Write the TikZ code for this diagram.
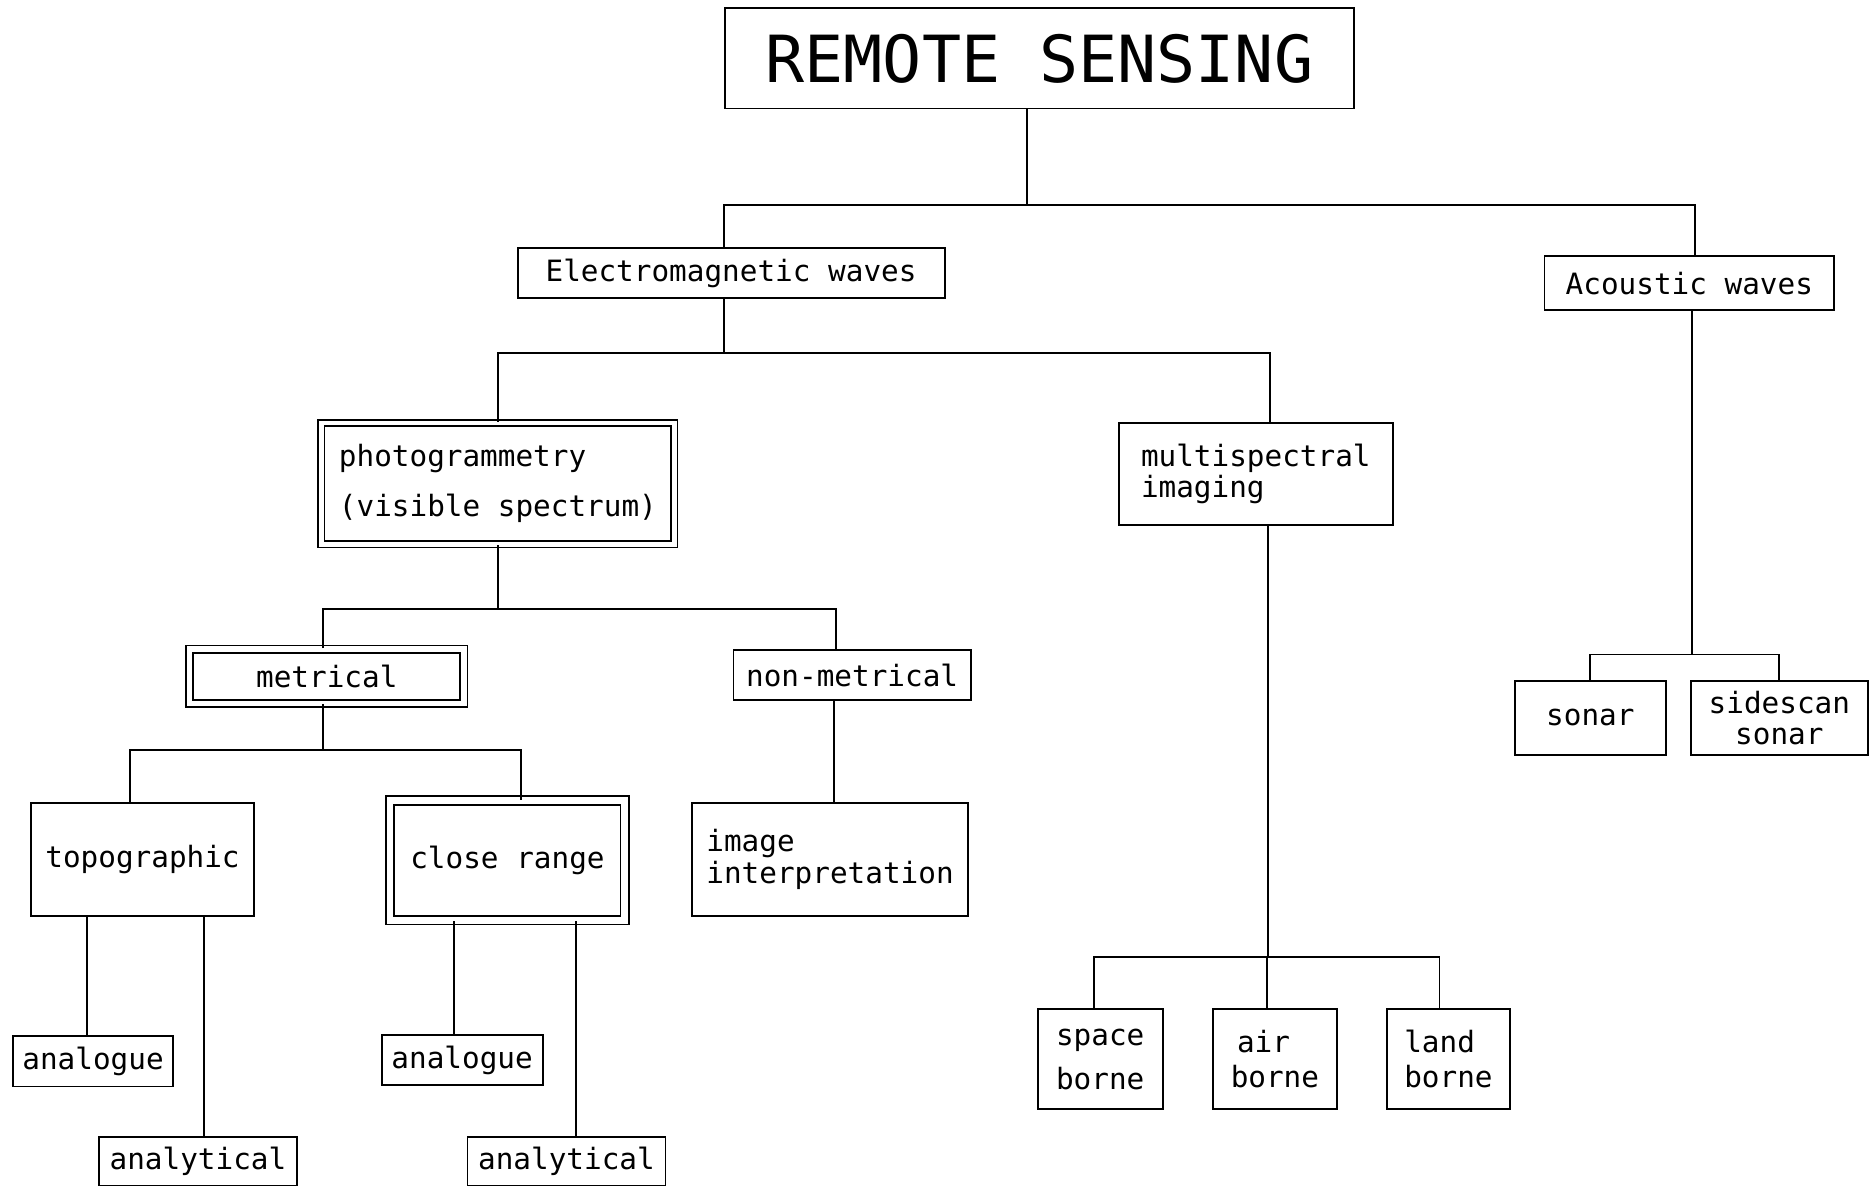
\documentclass[tikz,border=0pt]{standalone}
\usepackage{fontspec}
\newfontfamily\plotfont{DejaVu Sans Mono}
\usepackage{tikz}

\begin{document}
\begin{tikzpicture}[
    box/.style={draw, line width=0.9pt, inner sep=1pt, font=\plotfont\fontsize{14}{15}\selectfont},
    dbl/.style={box, double, double distance=#1},
    conn/.style={line width=0.9pt}
]
\useasboundingbox (0,0) rectangle (31.36,-19.9);

% Remote sensing
\node[box, minimum width=10.54cm, minimum height=1.68cm, font=\plotfont\fontsize{31}{36}\selectfont] (rs) at (17.43,-0.98) {REMOTE SENSING};

% Electromagnetic and acoustic waves
\node[box, minimum width=7.16cm, minimum height=0.84cm] (em) at (12.26,-4.58) {Electromagnetic waves};
\node[box, minimum width=4.86cm, minimum height=0.90cm] (ac) at (28.33,-4.75) {Acoustic waves};

% Arrow-less tree from remote sensing
\draw[conn] ([xshift=-2.1mm]rs.south) -- ++(0,-1.6) coordinate (j1);
\draw[conn] ([xshift=-1.2mm]em.north) |- (j1) -| ([xshift=0.9mm]ac.north);

% Photogrammetry and multispectral imaging
\node[dbl=2pt, minimum width=5.92cm, minimum height=2.04cm, align=left] (ph) at (8.35,-8.11) {photogrammetry\\[9pt](visible spectrum)};
\node[box, minimum width=4.6cm, minimum height=1.7cm, align=left] (ms) at (21.06,-7.95) {multispectral\\imaging};

\draw[conn] ([xshift=-1.2mm]em.south) -- ++(0,-0.9) coordinate (j2);
\draw[conn] (ph.north) |- (j2) -| ([xshift=2.4mm]ms.north);

% Metrical and non-metrical
\node[dbl=2.5pt, minimum width=4.6cm, minimum height=0.91cm] (mt) at (5.48,-11.34) {metrical};
\node[box, minimum width=3.98cm, minimum height=0.84cm] (nm) at (14.29,-11.32) {non-metrical};

\draw[conn] (ph.south) -- ++(0,-1.07) coordinate (j3);
\draw[conn] ([xshift=-0.6mm]mt.north) |- (j3) -| ([xshift=-2.7mm]nm.north);

% Topographic, close range, image interpretation
\node[box, minimum width=3.74cm, minimum height=1.9cm] (tp) at (2.39,-14.41) {topographic};
\node[dbl=3.3pt, minimum width=3.94cm, minimum height=2.0cm] (cr) at (8.51,-14.43) {close range};
\node[box, minimum width=4.64cm, minimum height=1.9cm, align=left] (ii) at (13.92,-14.41) {image\\interpretation};

\draw[conn] ([xshift=-0.6mm]mt.south) -- ++(0,-0.77) coordinate (j4);
\draw[conn] ([xshift=-2.1mm]tp.north) |- (j4) -| ([xshift=2.3mm]cr.north);
\draw[conn] ([xshift=-3.1mm]nm.south) -- ([xshift=-3.1mm]nm.south |- ii.north);

% Analogue and analytical
\node[box, minimum width=2.68cm, minimum height=0.84cm] (tpan) at (1.56,-17.80) {analogue};
\node[box, minimum width=3.32cm, minimum height=0.82cm] (tpal) at (3.32,-19.47) {analytical};
\node[box, minimum width=2.70cm, minimum height=0.84cm] (cran) at (7.75,-17.78) {analogue};
\node[box, minimum width=3.32cm, minimum height=0.82cm] (cral) at (9.50,-19.47) {analytical};

\draw[conn] ([xshift=-1mm]tpan.north) -- ([xshift=-1mm]tpan.north |- tp.south);
\draw[conn] ([xshift=1mm]tpal.north) -- ([xshift=1mm]tpal.north |- tp.south);
\draw[conn] ([xshift=-1.3mm]cran.north) -- ([xshift=-1.3mm]cran.north |- cr.south);
\draw[conn] ([xshift=1.6mm]cral.north) -- ([xshift=1.6mm]cral.north |- cr.south);

% Space, air and land borne
\node[box, minimum width=2.10cm, minimum height=1.68cm, align=left] (sb) at (18.45,-17.76) {space\\[6pt]borne};
\node[box, minimum width=2.08cm, minimum height=1.68cm, align=left] (ab) at (21.38,-17.76) {\hspace{3pt}air\\[2pt]borne};
\node[box, minimum width=2.06cm, minimum height=1.68cm, align=left] (lb) at (24.29,-17.76) {land\\[2pt]borne};

\draw[conn] ([xshift=2mm]ms.south) -- ++(0,-7.24) coordinate (j5);
\draw[conn] ([xshift=-1.1mm]sb.north) |- (j5) -| ([xshift=-1.5mm]lb.north);
\draw[conn] ([xshift=-1.4mm]ab.north) -- ([xshift=-1.4mm]ab.north |- j5);

% Sonar
\node[box, minimum width=2.54cm, minimum height=1.24cm] (so) at (26.67,-12.04) {sonar};
\node[box, minimum width=2.96cm, minimum height=1.24cm, align=center] (ss) at (29.84,-12.04) {sidescan\\sonar};

\draw[conn] ([xshift=0.5mm]ac.south) -- ++(0,-5.76) coordinate (j6);
\draw[conn] (so.north) |- (j6) -| (ss.north);
\end{tikzpicture}
\end{document}
